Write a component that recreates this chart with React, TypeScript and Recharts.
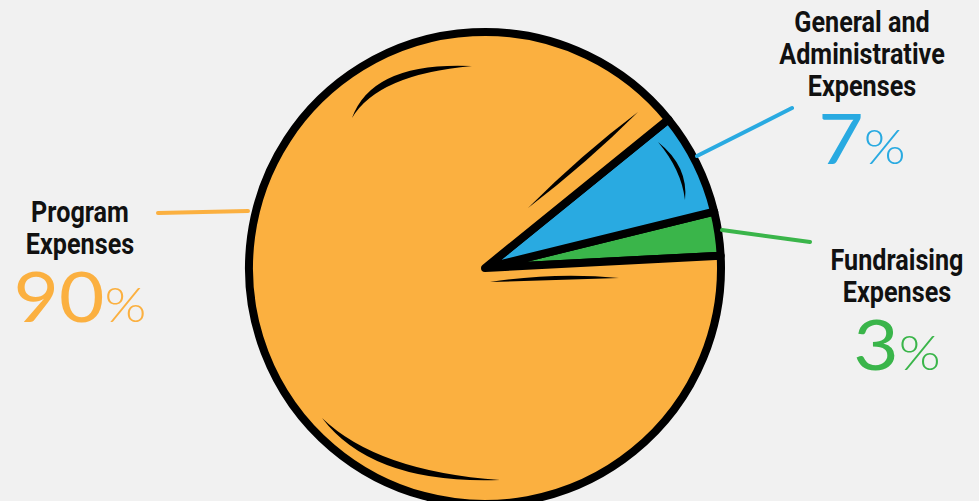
import { PieChart, Pie, Cell } from "recharts";

const CATEGORIES = ["Fundraising Expenses", "General and Administrative Expenses", "Program Expenses"];
const SHARES = [3, 7, 90];
const TITLE_LINES = [["Fundraising", "Expenses"], ["General and", "Administrative", "Expenses"], ["Program", "Expenses"]];

const COLORS = ["#3AB54A", "#29AAE1", "#FBB040"];

const DATA = CATEGORIES.map((name, i) => ({ name, value: SHARES[i] }));

// label blocks, relative to the pie centre
const LABEL_LAYOUT = [
  { x: 412, y: 2, line: [[237, -38], [325, -26]] },
  { x: 377, y: -236, line: [[212, -112], [307, -160]] },
  { x: -405, y: -46, line: [[-327, -55], [-237, -57]] },
];

const CX = 485;
const CY = 268;
const R = 236;
const SQUEEZE = 0.84;

// hand-drawn sketch marks over the pie, offsets from centre
const SKETCH = [
  { a: [-133, -150], c: [-110, -200], b: [-13, -202], w: 7 },
  { a: [43, -60], c: [100, -110], b: [153, -156], w: 5 },
  { a: [173, -126], c: [200, -100], b: [200, -68], w: 4 },
  { a: [5, 14], c: [70, 8], b: [134, 10], w: 4 },
  { a: [-163, 150], c: [-110, 210], b: [15, 212], w: 7 },
];

const sketchMarks = (cx0: number, cy0: number) =>
  SKETCH.map((s, i) => {
    const ax = cx0 + s.a[0], ay = cy0 + s.a[1];
    const bx = cx0 + s.b[0], by = cy0 + s.b[1];
    const cx = cx0 + s.c[0], cy = cy0 + s.c[1];
    const dx = bx - ax, dy = by - ay;
    const len = Math.hypot(dx, dy);
    const nx = (-dy / len) * s.w, ny = (dx / len) * s.w;
    return (
      <path
        key={`sk-${i}`}
        d={`M${ax},${ay} Q${cx + nx},${cy + ny} ${bx},${by} Q${cx - nx},${cy - ny} ${ax},${ay} Z`}
        fill="#000"
      />
    );
  });

const renderLabel = (props: any) => {
  const { index, cx, cy } = props;
  const lay = LABEL_LAYOUT[index];
  const lines = TITLE_LINES[index];
  const x = cx + lay.x;
  const y = cy + lay.y;
  const color = COLORS[index];
  const pctY = y + lines.length * 32 + 36;
  return (
    <g key={`lbl-${index}`}>
      {index === 0 && sketchMarks(cx, cy)}
      <path
        d={`M${cx + lay.line[0][0]},${cy + lay.line[0][1]} L${cx + lay.line[1][0]},${cy + lay.line[1][1]}`}
        stroke={color}
        strokeWidth={4}
        strokeLinecap="round"
        fill="none"
      />
      <g transform={`translate(${x},0) scale(${SQUEEZE},1)`}>
        <text
          x={0}
          y={y}
          textAnchor="middle"
          fontFamily="Roboto, sans-serif"
          fontWeight={700}
          fontSize={30}
          fill="#111"
        >
          {lines.map((t, j) => (
            <tspan key={j} x={0} dy={j === 0 ? 0 : 32}>
              {t}
            </tspan>
          ))}
        </text>
      </g>
      <g transform={`translate(${x},0) scale(1.12,1)`}>
        <text x={0} y={pctY} textAnchor="middle" fill={color} fontFamily="Lato, 'Noto Sans', sans-serif" fontWeight={400}>
          <tspan fontSize={70}>{SHARES[index]}</tspan>
          <tspan fontSize={48} fontWeight={300}>%</tspan>
        </text>
      </g>
    </g>
  );
};

export default function App() {
  return (
    <div style={{ position: "absolute", left: 0, top: 0, width: 979, height: 501, background: "#F1F1F1", overflow: "hidden" }}>
      <PieChart width={979} height={501} margin={{ top: 0, right: 0, bottom: 0, left: 0 }}>
        <Pie
          data={DATA}
          dataKey="value"
          nameKey="name"
          cx={CX}
          cy={CY}
          outerRadius={R}
          startAngle={3}
          endAngle={363}
          stroke="#000"
          strokeWidth={8}
          strokeLinejoin="round"
          label={renderLabel}
          labelLine={false}
          isAnimationActive={false}
        >
          {DATA.map((d, i) => (
            <Cell key={d.name} fill={COLORS[i]} />
          ))}
        </Pie>
      </PieChart>
    </div>
  );
}
